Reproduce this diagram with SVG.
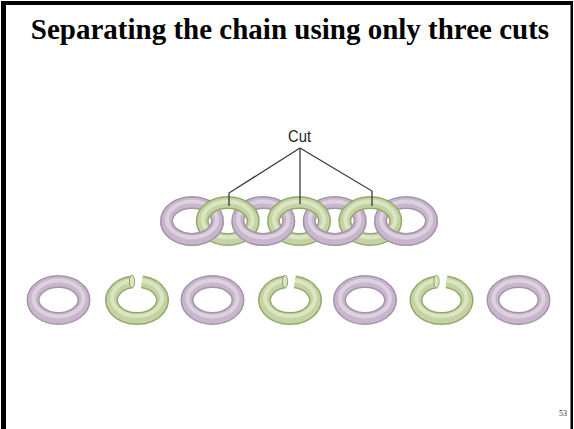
<svg xmlns="http://www.w3.org/2000/svg" width="574" height="429" viewBox="0 0 574 429">
  <style>
    .title { font-family: "Liberation Serif", "Times New Roman", serif; font-weight: bold; font-size: 29px; fill: #000; }
    .label { font-family: "Liberation Sans", Arial, sans-serif; font-size: 16.5px; fill: #222; }
    .page { font-family: "Liberation Serif", "Times New Roman", serif; font-size: 8px; fill: #333; }
    .lead { fill: none; stroke: #3a3a3a; stroke-width: 1.3; }
    .p-edge { fill: none; stroke: #a593aa; stroke-width: 13; }
    .p-body { fill: none; stroke: #c8b6cc; stroke-width: 10; }
    .p-hi { fill: none; stroke: #ddd1e0; stroke-width: 4; }
    .g-edge { fill: none; stroke: #93a86a; stroke-width: 13; }
    .g-body { fill: none; stroke: #c4d3a1; stroke-width: 10; }
    .g-hi { fill: none; stroke: #dbe5c3; stroke-width: 4; }
  </style>
  <defs>
    <!-- closed tube rings, centred on 0,0 -->
    <g id="pinkRing">
      <ellipse class="p-edge" rx="25.5" ry="18.5"/>
      <ellipse class="p-body" rx="25.5" ry="18.5"/>
      <ellipse class="p-hi" cx="0" cy="-1.5" rx="25" ry="18"/>
    </g>
    <g id="greenRing">
      <ellipse class="g-edge" rx="25.5" ry="18.5"/>
      <ellipse class="g-body" rx="25.5" ry="18.5"/>
      <ellipse class="g-hi" cx="0" cy="-1.5" rx="25" ry="18"/>
    </g>
    <!-- opened ring with a gap at the top -->
    <g id="greenOpen">
      <path class="g-edge" d="M 5 -18.14 A 25.5 18.5 0 1 1 -5 -18.14"/>
      <path class="g-body" d="M 5 -18.14 A 25.5 18.5 0 1 1 -5 -18.14"/>
      <path class="g-hi" d="M 5 -19.6 A 25 18 0 1 1 -5 -19.6"/>
      <ellipse cx="-5" cy="-18.4" rx="2.6" ry="6.3" fill="#dbe5c3" stroke="#93a86a" stroke-width="1"/>
    </g>
    <clipPath id="lowerHalf">
      <rect x="140" y="222" width="320" height="40"/>
    </clipPath>
  </defs>

  <rect width="574" height="429" fill="#fff"/>

  <!-- slide frame -->
  <g id="frame" fill="#000">
    <rect x="1" y="1" width="5" height="428"/>
    <rect x="1" y="1" width="572" height="4"/>
    <rect x="570.5" y="1" width="2.5" height="428"/>
  </g>

  <g id="title">
    <text class="title" x="290" y="39" text-anchor="middle">Separating the chain using only three cuts</text>
  </g>

  <!-- joined chain of seven links -->
  <g id="chain">
    <g id="chain-pink">
      <use href="#pinkRing" x="192" y="221"/>
      <use href="#pinkRing" x="263.3" y="221"/>
      <use href="#pinkRing" x="334.7" y="221"/>
      <use href="#pinkRing" x="406" y="221"/>
    </g>
    <g id="chain-green">
      <use href="#greenRing" x="227.7" y="221"/>
      <use href="#greenRing" x="299" y="221"/>
      <use href="#greenRing" x="370.3" y="221"/>
    </g>
    <!-- pink links pass over green ones at the lower crossings -->
    <g clip-path="url(#lowerHalf)">
      <use href="#pinkRing" x="192" y="221"/>
      <use href="#pinkRing" x="263.3" y="221"/>
      <use href="#pinkRing" x="334.7" y="221"/>
      <use href="#pinkRing" x="406" y="221"/>
    </g>
  </g>

  <!-- leader lines to the cut points -->
  <g id="connectors">
    <polyline class="lead" points="300,148 229,193 229,206"/>
    <line class="lead" x1="300" y1="148" x2="300" y2="204"/>
    <polyline class="lead" points="300,148 372,191 372,206"/>
  </g>

  <g id="cut-label">
    <text class="label" x="288" y="142" textLength="23" lengthAdjust="spacingAndGlyphs">Cut</text>
  </g>

  <!-- separated links -->
  <g id="loose-links">
    <g id="link1"><use href="#pinkRing" x="58.5" y="300"/></g>
    <g id="link2"><use href="#greenOpen" x="137" y="300"/></g>
    <g id="link3"><use href="#pinkRing" x="212.5" y="300"/></g>
    <g id="link4"><use href="#greenOpen" x="290" y="300"/></g>
    <g id="link5"><use href="#pinkRing" x="365" y="300"/></g>
    <g id="link6"><use href="#greenOpen" x="441.5" y="300"/></g>
    <g id="link7"><use href="#pinkRing" x="518.5" y="300"/></g>
  </g>

  <g id="page-number">
    <text class="page" x="563" y="416" text-anchor="middle">53</text>
  </g>
</svg>
